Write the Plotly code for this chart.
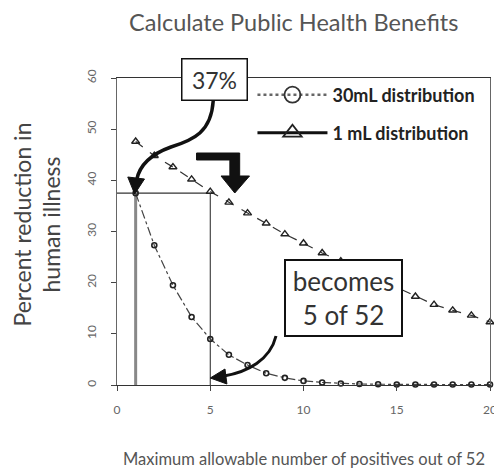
import plotly.graph_objects as go

# ---- data ----
positives = list(range(1, 21))
dist_30ml = [37.5, 27.3, 19.5, 13.3, 9.0, 5.9, 3.9, 2.3, 1.4, 0.8,
             0.5, 0.3, 0.2, 0.15, 0.1, 0.1, 0.1, 0.1, 0.1, 0.1]
dist_1ml = [47.6, 44.8, 42.6, 40.2, 37.8, 35.7, 33.6, 31.6, 29.5, 27.7,
            25.8, 24.2, 22.5, 20.8, 19.0, 17.3, 15.7, 14.6, 13.6, 12.3]
x_ticks = [0, 5, 10, 15, 20]
y_ticks = [0, 10, 20, 30, 40, 50, 60]

OFF = 8  # page body margin
W, H = 502 - OFF, 471 - OFF
L, R, T, B = 117, 497, 78, 385  # reference pixel positions of the plot area


def px(xp, yp):
    return (xp - L) / (R - L), (B - yp) / (B - T)


def path(points, close=False):
    s = ""
    for i, p in enumerate(points):
        xx, yy = px(*p)
        s += ("M" if i == 0 else "L") + f"{xx:.4f},{yy:.4f} "
    return s + ("Z" if close else "")


def cpath(start, curves):
    xx, yy = px(*start)
    s = f"M{xx:.4f},{yy:.4f} "
    for c in curves:
        pts = [px(*p) for p in c]
        s += "C" + " ".join(f"{a:.4f},{b:.4f}" for a, b in pts) + " "
    return s


fig = go.Figure()

# reference lines from data
fig.add_shape(type="line", xref="x", yref="y", x0=-0.5, x1=positives[4],
              y0=dist_30ml[0], y1=dist_30ml[0], line=dict(color="#333", width=1.2), layer="below")
fig.add_shape(type="line", xref="x", yref="y", x0=positives[0], x1=positives[0],
              y0=0, y1=dist_30ml[0], line=dict(color="#888", width=3), layer="below")
fig.add_shape(type="line", xref="x", yref="y", x0=positives[4], x1=positives[4],
              y0=0, y1=dist_30ml[0], line=dict(color="#222", width=1), layer="below")

fig.add_trace(go.Scatter(
    x=positives, y=dist_30ml, mode="lines+markers", showlegend=False,
    line=dict(color="#444", width=1.2, dash="dashdot"),
    marker=dict(symbol="circle-open", size=5, color="#222", line=dict(width=1.6)),
    cliponaxis=False))
fig.add_trace(go.Scatter(
    x=positives, y=dist_1ml, mode="lines+markers", showlegend=False,
    line=dict(color="#333", width=1.2, dash="dash"),
    marker=dict(symbol="triangle-up-open", size=7, color="#222", line=dict(width=1.4)),
    cliponaxis=False))

# legend-only dummy traces with large symbols
fig.add_trace(go.Scatter(
    x=[None], y=[None], mode="lines+markers", name="<b>30mL distribution</b>", legend="legend",
    line=dict(color="#666", width=2.5, dash="dot"),
    marker=dict(symbol="circle-open", size=16, color="#333", line=dict(width=1.8))))
fig.add_trace(go.Scatter(
    x=[None], y=[None], mode="lines+markers", name="<b>1 mL distribution</b>", legend="legend2",
    line=dict(color="#111", width=3),
    marker=dict(symbol="triangle-up-open", size=16, color="#222", line=dict(width=1.8))))

# 37% curved arrow
fig.add_shape(type="path", xref="paper", yref="paper",
              path=cpath((215, 101), [((213, 132), (195, 140), (172, 147)),
                                      ((152, 154), (140, 165), (137, 180))]),
              line=dict(color="#111", width=3.5))
fig.add_shape(type="path", xref="paper", yref="paper",
              path=path([(135, 194), (128, 177), (145, 179)], close=True),
              fillcolor="#111", line=dict(color="#111", width=1))

# bent arrow
fig.add_shape(type="path", xref="paper", yref="paper",
              path=path([(198, 153), (242, 153), (242, 176), (252, 176), (237, 193),
                         (223, 176), (232, 176), (232, 160), (198, 160)], close=True),
              fillcolor="#111", line=dict(color="#111", width=1))

# becomes arrow
fig.add_shape(type="path", xref="paper", yref="paper",
              path=cpath((279, 336), [((273, 360), (250, 372), (226, 376))]),
              line=dict(color="#111", width=3))
fig.add_shape(type="path", xref="paper", yref="paper",
              path=path([(212, 378), (227, 369), (229, 384)], close=True),
              fillcolor="#111", line=dict(color="#111", width=1))

font_main = "Lato, Open Sans, sans-serif"


def note(xp, yp, text, **kw):
    xx, yy = px(xp, yp)
    fig.add_annotation(x=xx, y=yy, xref="paper", yref="paper", text=text, showarrow=False,
                       xanchor="center", yanchor="middle", **kw)


note(216, 79.5, "37%", font=dict(size=23, color="#333", family=font_main),
     bgcolor="white", bordercolor="#111", borderwidth=1.5, width=64, height=40, borderpad=0)
note(347.5, 298, "becomes<br>5 of 52", font=dict(size=26, color="#333", family=font_main),
     bgcolor="white", bordercolor="#111", borderwidth=2, width=115, height=74, borderpad=0)
note(297, 22, "Calculate Public Health Benefits",
     font=dict(size=23.5, color="#555", family=font_main))
note(35, 225, "Percent reduction in<br>human illness", textangle=-90,
     font=dict(size=23, color="#444", family=font_main))
note(307, 459, "Maximum allowable number of positives out of 52",
     font=dict(size=16.5, color="#555", family=font_main))

lx, ly = px(255, 95)
lx2, ly2 = px(255, 133)
legend_style = dict(bgcolor="rgba(0,0,0,0)", font=dict(size=18, color="#222", family=font_main),
                    xanchor="left", yanchor="middle", itemwidth=70)

fig.update_layout(
    width=W, height=H,
    margin=dict(l=L - OFF, r=502 - R, t=T - OFF, b=471 - B),
    paper_bgcolor="white", plot_bgcolor="white",
    showlegend=True,
    legend=dict(x=lx, y=ly, **legend_style),
    legend2=dict(x=lx2, y=ly2, **legend_style),
    font=dict(family=font_main),
    xaxis=dict(range=[0, 20], tickvals=x_ticks, ticks="outside", ticklen=5,
               ticklabelstandoff=8, ticklabeloverflow="allow",
               showgrid=False, zeroline=False, showline=True, linecolor="#333", linewidth=1.2,
               mirror=True, tickfont=dict(size=12, color="#666")),
    yaxis=dict(range=[0, 60], tickvals=y_ticks, ticks="outside", ticklen=5, tickangle=-90,
               ticklabelstandoff=10, ticklabeloverflow="allow",
               showgrid=False, zeroline=False, showline=True, linecolor="#666", linewidth=1,
               mirror=True, tickfont=dict(size=12, color="#666")),
)

fig.write_html("out.html")
